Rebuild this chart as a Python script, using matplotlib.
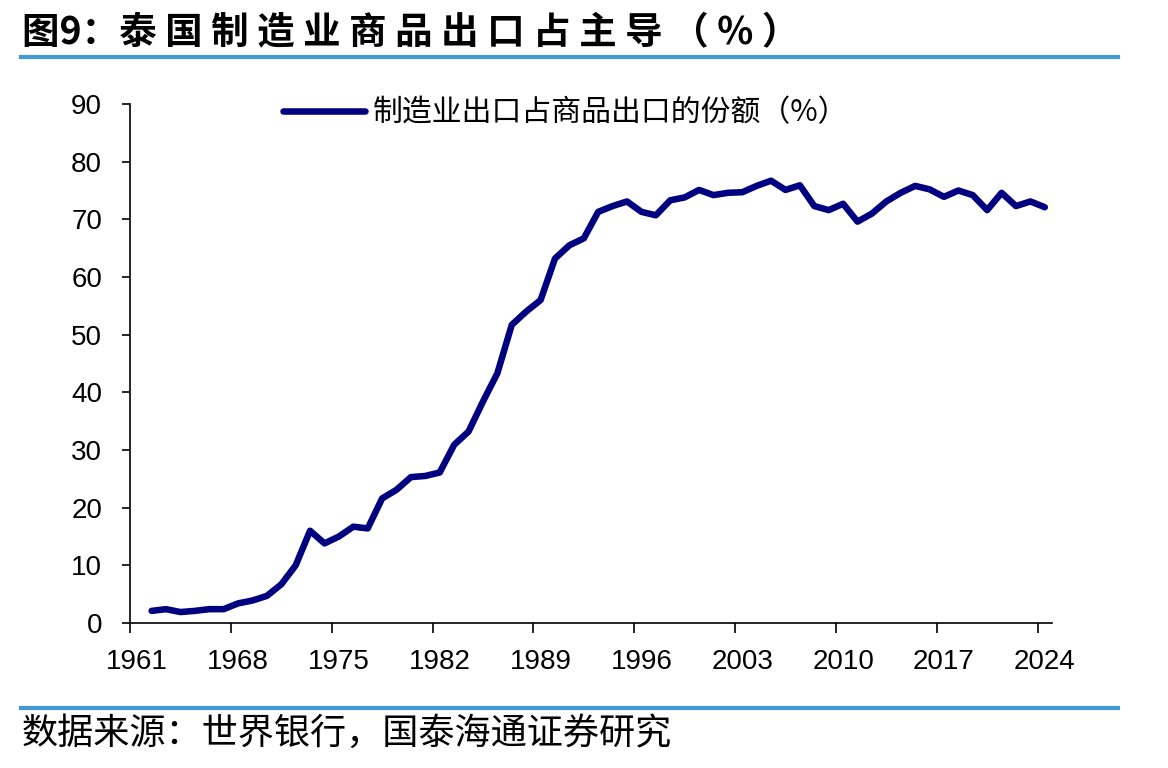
import matplotlib
matplotlib.use('Agg')
import matplotlib.pyplot as plt
from matplotlib.lines import Line2D
import numpy as np

# data (share of manufactures in merchandise exports, %)
years = list(range(1962, 2025))
share = [2.1, 2.4, 1.9, 2.1, 2.4, 2.4, 3.4, 3.9, 4.7, 6.7,
         10.0, 16.0, 13.8, 15.0, 16.7, 16.4, 21.6, 23.1, 25.3, 25.5,
         26.1, 30.9, 33.2, 38.4, 43.3, 51.7, 54.0, 56.0, 63.2, 65.5,
         66.7, 71.3, 72.3, 73.1, 71.3, 70.7, 73.3, 73.8, 75.1, 74.2,
         74.6, 74.7, 75.8, 76.7, 75.1, 75.9, 72.3, 71.6, 72.7, 69.6,
         71.0, 73.1, 74.6, 75.8, 75.2, 73.9, 75.0, 74.2, 71.6, 74.6,
         72.3, 73.1, 72.1]
tick_years = list(range(1961, 2025, 7))
yticks = list(range(0, 91, 10))

title_head = '图9：'
title_body = '泰国制造业商品出口占主导（%）'
series_name = '制造业出口占商品出口的份额（%）'
source = '数据来源：世界银行，国泰海通证券研究'

cjk = ['Noto Sans CJK SC', 'DejaVu Sans']
plt.rcParams['font.family'] = ['Liberation Sans', 'Noto Sans CJK SC']

W, H = 1168, 768
fig = plt.figure(figsize=(W / 100, H / 100), dpi=100)
ax = fig.add_axes([130 / W, 1 - 623 / H, (1052 - 130) / W, (623 - 104) / H])

ax.plot(years, share, color='#000080', lw=4.7, solid_joinstyle='round',
        solid_capstyle='round', label=series_name)

# category style axis: tick marks between years, labels centred on years
ax.set_xlim(1960.5, 2024.5)
ax.set_xticks([y - 0.5 for y in tick_years])
ax.set_xticklabels([])
ax.set_xticks(tick_years, minor=True)
ax.set_xticklabels([str(y) for y in tick_years], minor=True)
ax.tick_params(axis='x', which='major', length=7, width=1.2, direction='out')
ax.tick_params(axis='x', which='minor', length=0, pad=19, labelsize=20)

ax.set_ylim(0, 90)
ax.set_yticks(yticks)
ax.tick_params(axis='y', length=6, width=1.2, pad=14, labelsize=20)

for s in ['top', 'right']:
    ax.spines[s].set_visible(False)
for s in ['left', 'bottom']:
    ax.spines[s].set_linewidth(1.2)

fig.legend(loc='center left', bbox_to_anchor=(283 / W, 1 - 113 / H),
           frameon=False, borderpad=0, borderaxespad=0, handlelength=2.75,
           handletextpad=0.25, prop={'family': cjk, 'size': 21.5})

# title is letter-spaced in the original
fig.text(22 / W, 1 - 33 / H, title_head + ' '.join(title_body), family=cjk,
         fontsize=27, fontweight='bold', va='center', ha='left')
fig.text(22 / W, 1 - 734 / H, source, family=cjk, fontsize=26,
         va='center', ha='left')

sep = '#4299D7'
for yy in [57, 708]:
    fig.add_artist(Line2D([21 / W, 1118 / W], [1 - yy / H, 1 - yy / H],
                          transform=fig.transFigure, color=sep, lw=3))

fig.savefig('out.png', dpi=100)
